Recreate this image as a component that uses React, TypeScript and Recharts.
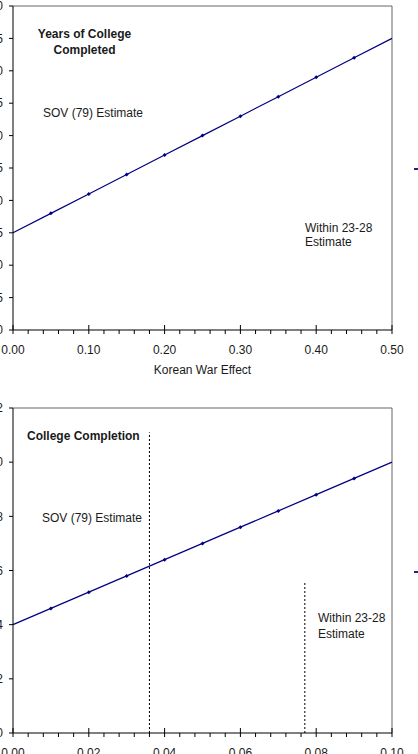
import React from "react";
import { LineChart, Line, XAxis, YAxis, ReferenceLine, Legend } from "recharts";

const FONT = "'Liberation Sans', Arial, Helvetica, sans-serif";
const NAVY = "#000080";
const INK = "#1a1a1a";

// Years of college completed panel
const yearsEffect = [0, 0.05, 0.1, 0.15, 0.2, 0.25, 0.3, 0.35, 0.4, 0.45, 0.5];
const yearsImplied = [0.15, 0.18, 0.21, 0.24, 0.27, 0.3, 0.33, 0.36, 0.39, 0.42, 0.45];
const yearsXTicks = [0, 0.1, 0.2, 0.3, 0.4, 0.5];
const yearsYTicks = [0, 0.05, 0.1, 0.15, 0.2, 0.25, 0.3, 0.35, 0.4, 0.45, 0.5];

// College completion panel
const completionEffect = [0, 0.01, 0.02, 0.03, 0.04, 0.05, 0.06, 0.07, 0.08, 0.09, 0.1];
const completionImplied = [0.04, 0.046, 0.052, 0.058, 0.064, 0.07, 0.076, 0.082, 0.088, 0.094, 0.1];
const completionXTicks = [0, 0.02, 0.04, 0.06, 0.08, 0.1];
const completionYTicks = [0, 0.02, 0.04, 0.06, 0.08, 0.1, 0.12];

// dashed drop lines on the completion panel: x position and height
const sovDrop = { x: 0.036, top: 0.111 };
const withinDrop = { x: 0.077, top: 0.056 };

const TICK_SIZE = 4;
const X_TICK_GAP = 11;

// four minor ticks between each pair of labelled ticks
function withMinor(major: number[]) {
  const out: number[] = [];
  for (let i = 0; i < major.length - 1; i++) {
    const step = (major[i + 1] - major[i]) / 5;
    for (let k = 0; k < 5; k++) out.push(+(major[i] + k * step).toFixed(6));
  }
  out.push(major[major.length - 1]);
  return out;
}

function XTick(props: any) {
  const { x, y, payload, majors } = props;
  const v = payload.value;
  if (!majors.some((m: number) => Math.abs(m - v) < 1e-9)) return <g />;
  const axisY = y - TICK_SIZE - X_TICK_GAP;
  return (
    <g>
      <line x1={x} x2={x} y1={axisY - 5} y2={axisY} stroke="#000" />
      <text x={x} y={y} dy="0.71em" textAnchor="middle" fontSize={12} fill={INK} fontFamily={FONT}>
        {v.toFixed(2)}
      </text>
    </g>
  );
}

function Diamond(props: any) {
  const { cx, cy, index, count } = props;
  if (index === 0 || index === count - 1) return <g key={index} />;
  return (
    <path
      key={index}
      d={`M${cx},${cy - 2}L${cx + 2},${cy}L${cx},${cy + 2}L${cx - 2},${cy}Z`}
      fill={NAVY}
    />
  );
}

type PanelProps = {
  top: number;
  marginTop: number;
  height: number;
  xs: number[];
  ys: number[];
  xTicks: number[];
  yTicks: number[];
  xLabel?: string;
  legendTop: number;
  drops?: { x: number; top: number }[];
};

function Panel({ top, marginTop, height, xs, ys, xTicks, yTicks, xLabel, legendTop, drops = [] }: PanelProps) {
  const data = xs.map((x, i) => ({ x, y: ys[i] }));
  const xMax = xTicks[xTicks.length - 1];
  const yMax = yTicks[yTicks.length - 1];
  return (
    <div style={{ position: "absolute", left: -37, top }}>
      <LineChart
        width={470}
        height={height}
        data={data}
        margin={{ top: marginTop, right: 41, bottom: 0, left: 0 }}
        style={{ fontFamily: FONT }}
      >
        <XAxis
          type="number"
          dataKey="x"
          domain={[0, xMax]}
          ticks={withMinor(xTicks)}
          interval={0}
          height={50}
          tickSize={TICK_SIZE}
          tickMargin={X_TICK_GAP}
          axisLine={{ stroke: "#000" }}
          tickLine={{ stroke: "#000" }}
          tick={<XTick majors={xTicks} />}
          label={xLabel ? { value: xLabel, position: "insideBottom", offset: 6, fontSize: 12, fill: INK } : undefined}
        />
        <YAxis
          type="number"
          domain={[0, yMax]}
          ticks={yTicks}
          interval={0}
          width={50}
          tickSize={TICK_SIZE}
          tickMargin={6}
          axisLine={{ stroke: "#000" }}
          tickLine={{ stroke: "#000" }}
          tick={{ fontSize: 12, fill: INK, fontFamily: FONT }}
          tickFormatter={(v: number) => v.toFixed(2)}
        />
        <ReferenceLine y={yMax} stroke="#666" />
        <ReferenceLine x={xMax} stroke="#666" />
        {drops.map((d, i) => (
          <ReferenceLine
            key={i}
            segment={[{ x: d.x, y: 0 }, { x: d.x, y: d.top }]}
            stroke="#000"
            strokeDasharray="2 2"
          />
        ))}
        <Legend
          layout="horizontal"
          align="center"
          verticalAlign="middle"
          iconType="plainline"
          iconSize={14}
          wrapperStyle={{ left: 451, top: legendTop, width: 20, whiteSpace: "nowrap", fontSize: 12 }}
        />
        <Line
          name="Implied effect"
          type="linear"
          dataKey="y"
          stroke={NAVY}
          strokeWidth={1.2}
          dot={(p: any) => <Diamond {...p} count={data.length} />}
          activeDot={false}
          isAnimationActive={false}
        />
      </LineChart>
    </div>
  );
}

const note: React.CSSProperties = {
  position: "absolute",
  fontFamily: FONT,
  fontSize: 12,
  lineHeight: "14px",
  color: INK,
  whiteSpace: "nowrap",
};

export default function App() {
  return (
    <div
      style={{
        position: "absolute",
        left: 0,
        top: 0,
        width: 418,
        height: 754,
        overflow: "hidden",
        background: "#fff",
      }}
    >
      <Panel
        top={0}
        marginTop={6}
        height={380}
        xs={yearsEffect}
        ys={yearsImplied}
        xTicks={yearsXTicks}
        yTicks={yearsYTicks}
        xLabel="Korean War Effect"
        legendTop={161}
      />
      <div style={{ ...note, left: 34, top: 26, width: 101, textAlign: "center", fontWeight: "bold", lineHeight: "16px" }}>
        Years of College
        <br />
        Completed
      </div>
      <div style={{ ...note, left: 43, top: 106 }}>SOV (79) Estimate</div>
      <div style={{ ...note, left: 305, top: 221 }}>
        Within 23-28
        <br />
        Estimate
      </div>

      <Panel
        top={400}
        marginTop={8}
        height={383}
        xs={completionEffect}
        ys={completionImplied}
        xTicks={completionXTicks}
        yTicks={completionYTicks}
        legendTop={164}
        drops={[sovDrop, withinDrop]}
      />
      <div style={{ ...note, left: 27, top: 429, fontWeight: "bold" }}>College Completion</div>
      <div style={{ ...note, left: 42, top: 511 }}>SOV (79) Estimate</div>
      <div style={{ ...note, left: 318, top: 610, lineHeight: "16px" }}>
        Within 23-28
        <br />
        Estimate
      </div>
    </div>
  );
}
